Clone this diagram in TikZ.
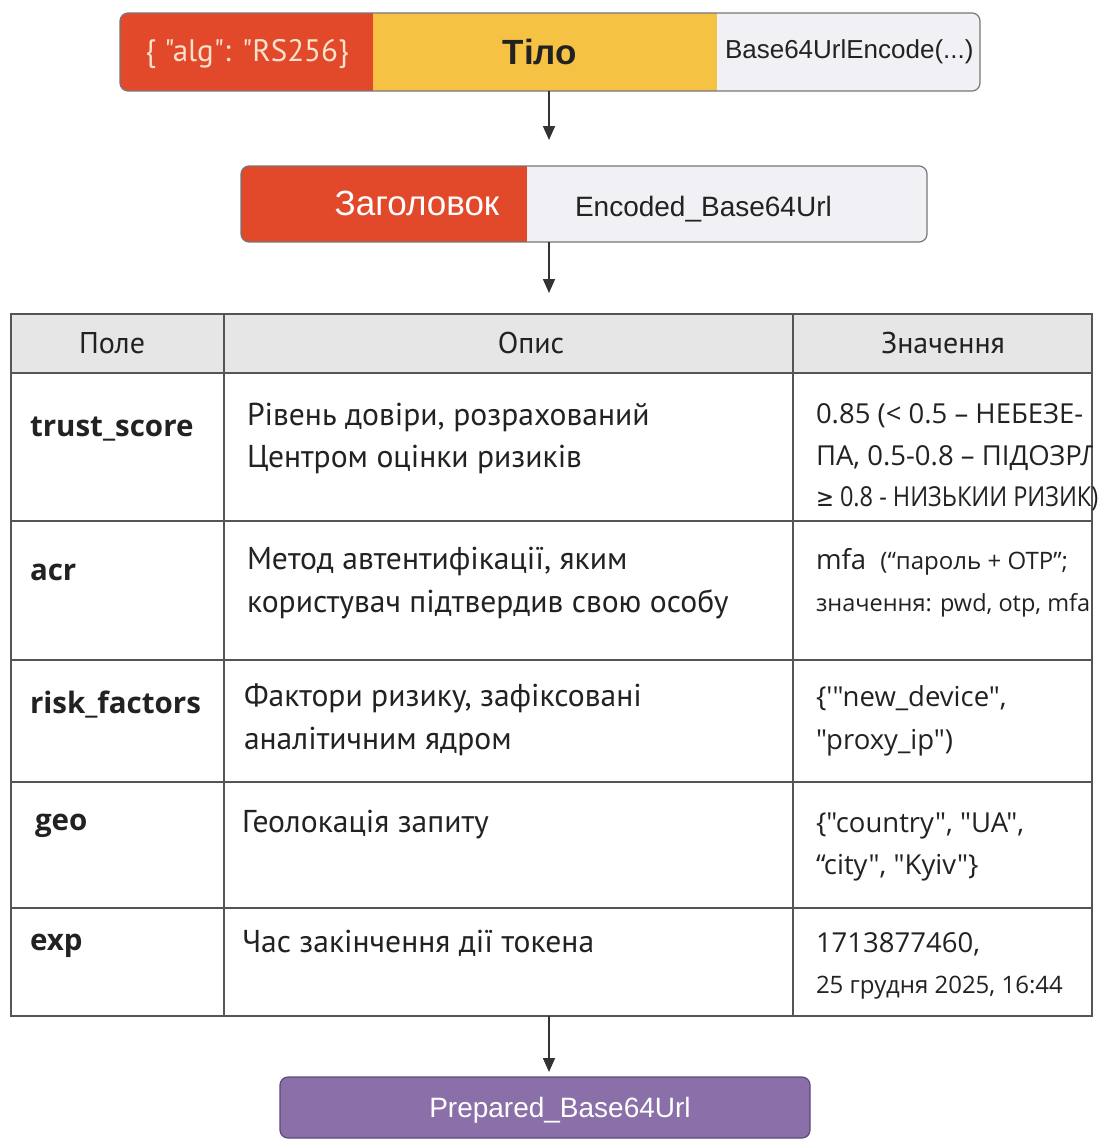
\documentclass[tikz,border=0pt]{standalone}
\usepackage{fontspec}
\setmainfont{Open Sans}[Ligatures=TeXOff]
\newfontfamily\ptsans{PT Sans}[Ligatures=TeXOff]
\newfontfamily\libsans{Liberation Sans}[Ligatures=TeXOff]
\newfontfamily\symfont{DejaVu Sans}
\usetikzlibrary{arrows.meta}

\definecolor{jwtred}{HTML}{E2492B}
\definecolor{jwtyellow}{HTML}{F6C244}
\definecolor{jwtpale}{HTML}{F1F1F5}
\definecolor{jwtpurple}{HTML}{8A6FA8}
\definecolor{jwtpurpleline}{HTML}{5E4A7A}
\definecolor{hdrgray}{HTML}{E6E6E6}
\definecolor{linegray}{HTML}{555555}
\definecolor{arrowgray}{HTML}{333333}
\definecolor{cream}{HTML}{F8E2CC}
\definecolor{ink}{HTML}{222222}

\newcommand\pxsize[1]{\fontsize{#1}{#1}\selectfont}

\tikzset{
  seg/.style={inner sep=0pt, outer sep=0pt, draw=none},
  barline/.style={draw=linegray!80, line width=1.2pt, rounded corners=8pt},
  flowarrow/.style={draw=arrowgray, line width=1.6pt, -{Triangle[length=14pt,width=12pt]}},
  grid/.style={draw=linegray, line width=1.4pt},
  txt/.style={anchor=base west, inner sep=0pt, outer sep=0pt, text=ink},
  ctxt/.style={anchor=base, inner sep=0pt, outer sep=0pt, text=ink},
  desc/.style={txt, font=\ptsans\pxsize{31.6}},
  val/.style={txt, font=\pxsize{27.5}},
  field/.style={txt, font=\bfseries\pxsize{29.5}},
  head/.style={ctxt, font=\ptsans\pxsize{30}},
}

\begin{document}
\begin{tikzpicture}[x=1pt,y=-1pt]
\useasboundingbox (0,0) rectangle (1107,1140);
\fill[white] (0,0) rectangle (1107,1140);

% ---- token parts: header | body | encoding
\begin{scope}
  \clip[rounded corners=8pt] (120,13) rectangle (980,91);
  \node[seg, fill=jwtred, minimum width=253pt, minimum height=78pt] (alg) at (246.5,52) {};
  \node[seg, fill=jwtyellow, minimum width=344pt, minimum height=78pt] (body) at (545,52) {};
  \node[seg, fill=jwtpale, minimum width=263pt, minimum height=78pt] (enc) at (848.5,52) {};
\end{scope}
\draw[barline] (alg.north west) rectangle (enc.south east);
\node[ctxt, font=\ptsans\pxsize{31}, text=cream] (algtxt) at (247,62) {\{ "alg": "RS256\}};
\node[ctxt, font=\libsans\bfseries\pxsize{35}] (bodytxt) at (540,64) {Тіло};
\node[txt, font=\libsans\pxsize{26}] (enctxt) at (725,59) {Base64UrlEncode(...)};

% ---- encoded header bar
\begin{scope}
  \clip[rounded corners=8pt] (241,166) rectangle (927,242);
  \node[seg, fill=jwtred, minimum width=286pt, minimum height=76pt] (hdr) at (384,204) {};
  \node[seg, fill=jwtpale, minimum width=400pt, minimum height=76pt] (hdrenc) at (727,204) {};
\end{scope}
\draw[barline] (hdr.north west) rectangle (hdrenc.south east);
\node[ctxt, font=\libsans\pxsize{35}, text=white] (hdrtxt) at (417,215) {Заголовок};
\node[txt, font=\libsans\pxsize{28}] (hdrenctxt) at (575,216) {Encoded\_Base64Url};

% ---- claims table
\node[seg, minimum width=1081pt, minimum height=702pt] (tbl) at (551.5,665) {};
\fill[hdrgray] (11,314) rectangle (1092,373);
\draw[grid] (tbl.north west) rectangle (tbl.south east);
\foreach \yy in {373,521,660,782,908}
  \draw[grid] (11,\yy) -- (1092,\yy);
\foreach \xx in {224,793}
  \draw[grid] (\xx,314) -- (\xx,1016);

% header row
\node[head] (hfield) at (112,353) {Поле};
\node[head] (hdesc) at (531,353) {Опис};
\node[head] (hval) at (943,353) {Значення};

% trust_score
\node[field] (f1) at (30,436) {trust\_score};
\node[desc] (d1a) at (247,425) {Рівень довіри, розрахований};
\node[desc] (d1b) at (247,467) {Центром оцінки ризиків};
\begin{scope}
  \clip (793,373) rectangle (1092,521);
  \node[val] (v1a) at (816,423) {0.85 (< 0.5 – НЕБЕЗЕ-};
  \node[val] (v1b) at (816,465) {ПА, 0.5-0.8 – ПІДОЗРЛ};
\end{scope}
\node[val] (v1c) at (816,506) {\scalebox{0.855}[1]{{\symfont\pxsize{25}≥} 0.8 - НИЗЬКИИ РИЗИК)}};

% acr
\node[field] (f2) at (30,580) {acr};
\node[desc] (d2a) at (247,569) {Метод автентифікації, яким};
\node[desc] (d2b) at (247,612) {користувач підтвердив свою особу};
\node[val] (v2a) at (816,569) {mfa\ \ {\pxsize{24}(“пароль + OTP”;}};
\node[txt, font=\pxsize{23.5}] (v2b) at (816,611) {значення: pwd, otp, mfa};

% risk_factors
\node[field] (f3) at (30,713) {risk\_factors};
\node[desc] (d3a) at (244,706) {Фактори ризику, зафіксовані};
\node[desc] (d3b) at (244,749) {аналітичним ядром};
\node[val] (v3a) at (816,706) {\{'"new\_device",};
\node[val] (v3b) at (816,749) {"proxy\_ip")};

% geo
\node[field] (f4) at (35,830) {geo};
\node[desc] (d4) at (242,832) {Геолокація запиту};
\node[val] (v4a) at (816,832) {\{"country", "UA",};
\node[val] (v4b) at (816,874) {“city", "Kyiv"\}};

% exp
\node[field] (f5) at (30,950) {exp};
\node[desc] (d5) at (242,952) {Час закінчення дії токена};
\node[val] (v5a) at (816,952) {1713877460,};
\node[txt, font=\pxsize{24}] (v5b) at (816,993) {25 грудня 2025, 16:44};

% ---- prepared result
\node[seg, draw=jwtpurpleline, line width=1.2pt, fill=jwtpurple, rounded corners=8pt,
      minimum width=530pt, minimum height=61pt] (prep) at (545,1107.5) {};
\node[ctxt, font=\libsans\pxsize{28}, text=white] (preptxt) at (560,1117) {Prepared\_Base64Url};

% ---- flow arrows
\draw[flowarrow, shorten >=26pt] (body.south -| 549,0) -- (hdr.north -| 549,0);
\draw[flowarrow, shorten >=21pt] (hdr.south -| 549,0) -- (tbl.north -| 549,0);
\draw[flowarrow, shorten >=5pt] (tbl.south -| 549,0) -- (prep.north -| 549,0);
\end{tikzpicture}
\end{document}
